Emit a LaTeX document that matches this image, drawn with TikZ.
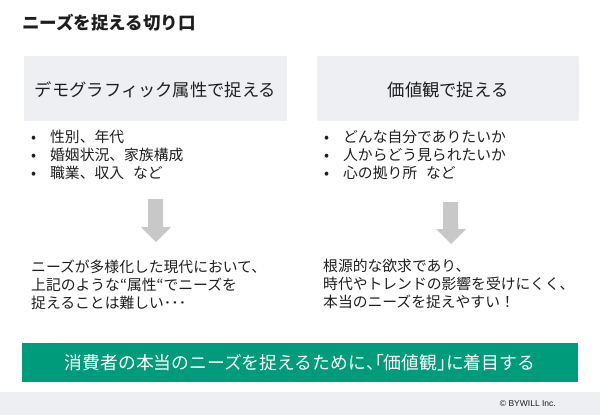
\documentclass[tikz,border=0pt]{standalone}
\usepackage{fontspec}
\setmainfont{Noto Sans CJK JP}
\newfontfamily\latinfont{Liberation Sans}
\definecolor{boxgray}{RGB}{237,239,242}
\definecolor{arrowgray}{RGB}{200,200,200}
\definecolor{bargreen}{RGB}{0,155,122}
\definecolor{txt}{RGB}{30,30,30}
\tikzset{
  headbox/.style={fill=boxgray, draw=none},
  headtext/.style={inner sep=0pt, text=txt, font=\fontsize{17.3}{20}\selectfont},
  listtext/.style={inner sep=0pt, anchor=west, align=left, text=txt, font=\fontsize{14.8}{18}\selectfont},
  blockarrow/.style={fill=arrowgray, draw=none},
}
\newcommand{\bul}{\makebox[19pt][l]{•}}
\newcommand{\hpunct}[1]{{\addfontfeature{RawFeature=+halt}#1}}
\begin{document}
\begin{tikzpicture}[x=1pt,y=-1pt]
\useasboundingbox (0,0) rectangle (600,415);
% title
\node[inner sep=0pt, anchor=west, text=txt, font=\fontsize{17.5}{20}\selectfont\bfseries] (title) at (22,23) {ニーズを捉える切り口};
% header boxes
\fill[headbox] (24,56) rectangle (287,121);
\fill[headbox] (317,56) rectangle (579,121);
\node[headtext] (lhead) at (155.5,90) {デモグラフィック属性で捉える};
\node[headtext] (rhead) at (448,90) {価値観で捉える};
% bullet lists
\node[listtext] (llist) at (31,155) {\bul 性別、年代\\ \bul 婚姻状況、家族構成\\ \bul 職業、収入\hspace{9pt}など};
\node[listtext] (rlist) at (324,155) {\bul どんな自分でありたいか\\ \bul 人からどう見られたいか\\ \bul 心の拠り所\hspace{9pt}など};
% block arrows
\fill[blockarrow] (148,199) -- (163,199) -- (163,227) -- (171,227) -- (156,242) -- (141,227) -- (148,227) -- cycle;
\fill[blockarrow] (443,202) -- (458,202) -- (458,229) -- (466,229) -- (451,244) -- (436,229) -- (443,229) -- cycle;
% lower texts
\node[listtext] (ltext) at (31,285) {ニーズが多様化した現代において、\\上記のような“属性“でニーズを\\捉えることは難しい･･･};
\node[listtext] (rtext) at (323,284) {根源的な欲求であり、\\時代やトレンドの影響を受けにくく、\\本当のニーズを捉えやすい！};
% green bar
\fill[bargreen] (22,343) rectangle (578,382);
\node[inner sep=0pt, text=white, font=\fontsize{17.8}{20}\selectfont] (concl) at (300,362.5) {消費者の本当のニーズを捉えるために\hpunct{、「}価値観\hpunct{」}に着目する};
% footer
\fill[boxgray] (0,392) rectangle (600,415);
\node[inner sep=0pt, anchor=east, text=txt, font=\latinfont\fontsize{8.5}{10}\selectfont] (copy) at (556,404) {© BYWILL Inc.};
\end{tikzpicture}
\end{document}
